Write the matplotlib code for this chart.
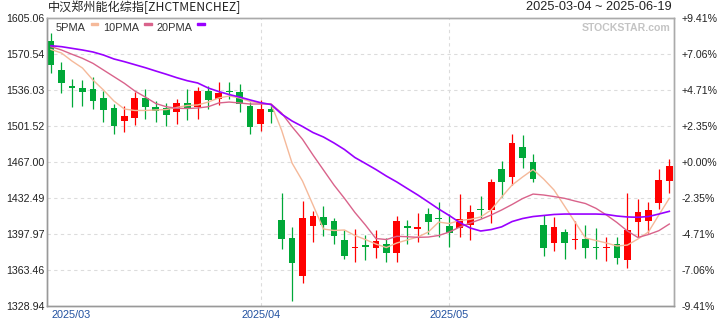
import matplotlib.pyplot as plt
from matplotlib.patches import Rectangle
import numpy as np

# chart text
title = "中汉郑州能化综指[ZHCTMENCHEZ]"
date_range = "2025-03-04 ~ 2025-06-19"

# daily OHLC (60 sessions)
opens = [1583.5, 1555.4, 1540.0, 1538.1, 1536.8, 1528.5, 1518.9, 1506.7, 1509.6, 1528.5,
         1519.6, 1518.6, 1515.3, 1523.7, 1519.6, 1535.2, 1527.8, 1535.2, 1534.3, 1520.8,
         1503.8, 1517.9, 1411.3, 1394.0, 1357.8, 1405.8, 1414.2, 1410.3, 1392.1, 1384.8,
         1387.2, 1383.9, 1387.9, 1379.9, 1405.5, 1403.1, 1417.0, 1413.2, 1405.5, 1403.9,
         1406.5, 1421.8, 1420.9, 1460.3, 1452.9, 1481.4, 1467.0, 1406.5, 1389.5, 1400.0,
         1392.5, 1392.7, 1385.3, 1383.9, 1388.2, 1372.5, 1409.6, 1410.3, 1427.9, 1449.0]
closes = [1560.5, 1542.6, 1538.4, 1534.5, 1525.9, 1517.2, 1501.6, 1511.2, 1528.5, 1520.1,
          1515.7, 1512.4, 1523.7, 1517.6, 1535.2, 1526.9, 1533.6, 1533.8, 1523.0, 1500.9,
          1517.9, 1515.3, 1393.0, 1370.3, 1413.2, 1415.1, 1406.8, 1396.2, 1377.0, 1385.3,
          1385.6, 1391.1, 1379.9, 1410.3, 1403.9, 1403.6, 1409.6, 1412.5, 1399.0, 1412.0,
          1419.0, 1420.9, 1447.8, 1448.1, 1485.0, 1470.5, 1450.7, 1384.7, 1404.5, 1388.9,
          1393.0, 1384.7, 1384.7, 1384.4, 1375.0, 1401.7, 1419.2, 1420.9, 1449.7, 1463.2]
highs = [1590.7, 1563.1, 1547.0, 1545.8, 1549.0, 1535.2, 1523.2, 1520.8, 1534.0, 1536.8,
         1525.9, 1523.4, 1527.2, 1536.8, 1539.3, 1540.0, 1543.6, 1543.4, 1541.9, 1524.9,
         1526.6, 1522.7, 1437.2, 1404.5, 1429.5, 1420.2, 1424.7, 1413.2, 1401.7, 1402.3,
         1396.9, 1401.7, 1393.7, 1415.1, 1411.3, 1418.0, 1422.8, 1428.6, 1416.6, 1436.1,
         1425.4, 1434.3, 1450.4, 1468.0, 1493.9, 1492.9, 1474.7, 1416.1, 1413.9, 1402.6,
         1410.3, 1406.5, 1403.3, 1394.6, 1394.6, 1437.5, 1431.2, 1428.3, 1460.3, 1469.9]
lows = [1552.8, 1533.6, 1520.1, 1521.1, 1517.9, 1505.7, 1493.9, 1496.1, 1502.8, 1508.6,
        1505.7, 1501.9, 1503.8, 1507.1, 1508.6, 1518.2, 1521.8, 1527.5, 1515.3, 1494.2,
        1497.1, 1504.8, 1383.4, 1333.7, 1350.5, 1390.4, 1396.2, 1388.5, 1373.5, 1371.2,
        1372.8, 1374.8, 1370.9, 1370.9, 1388.4, 1389.7, 1398.0, 1395.4, 1385.5, 1395.2,
        1392.1, 1412.9, 1408.1, 1433.7, 1444.9, 1460.9, 1447.8, 1377.0, 1381.8, 1373.8,
        1383.4, 1375.0, 1373.8, 1372.2, 1369.3, 1365.4, 1395.2, 1398.5, 1421.8, 1437.5]

# moving averages
ma5 = [1575.1, 1571.7, 1564.0, 1557.3, 1545.8, 1536.2, 1525.6, 1517.9, 1516.5, 1516.5,
       1517.0, 1517.4, 1519.4, 1521.3, 1521.8, 1524.6, 1528.5, 1530.4, 1528.5, 1525.1,
       1523.4, 1522.7, 1497.7, 1466.0, 1448.7, 1425.7, 1402.6, 1401.2, 1401.7, 1396.4,
       1392.5, 1388.2, 1384.8, 1389.2, 1392.1, 1394.9, 1399.7, 1409.3, 1407.9, 1410.8,
       1411.9, 1414.2, 1420.9, 1433.4, 1444.9, 1452.6, 1459.8, 1450.7, 1440.1, 1424.7,
       1409.3, 1394.0, 1391.6, 1389.2, 1386.3, 1387.2, 1393.0, 1399.7, 1416.1, 1432.1]
ma10 = [1577.8, 1574.6, 1570.5, 1566.6, 1561.8, 1555.4, 1549.0, 1542.6, 1535.2, 1529.4,
        1523.2, 1520.1, 1518.6, 1518.4, 1518.9, 1520.1, 1523.7, 1524.6, 1523.7, 1522.7,
        1522.7, 1522.7, 1514.1, 1500.9, 1488.8, 1473.7, 1459.3, 1444.9, 1432.1, 1418.5,
        1406.5, 1393.5, 1392.5, 1395.6, 1395.2, 1394.6, 1394.9, 1396.4, 1399.7, 1404.5,
        1408.4, 1411.9, 1416.1, 1420.9, 1426.2, 1431.9, 1436.2, 1435.3, 1433.8, 1432.1,
        1429.5, 1427.1, 1422.5, 1416.1, 1408.9, 1400.7, 1394.5, 1397.3, 1401.0, 1407.4]
ma20 = [1578.7, 1577.8, 1576.2, 1574.6, 1572.7, 1569.8, 1566.0, 1563.4, 1560.5, 1557.6,
        1554.4, 1551.3, 1548.0, 1545.1, 1542.9, 1538.1, 1534.7, 1531.8, 1529.4, 1526.6,
        1524.0, 1522.2, 1513.1, 1506.4, 1501.1, 1495.3, 1491.0, 1485.3, 1479.0, 1471.3,
        1465.6, 1459.8, 1453.5, 1447.8, 1441.5, 1435.3, 1428.6, 1421.8, 1415.6, 1408.9,
        1403.6, 1400.7, 1402.1, 1404.7, 1409.8, 1412.7, 1414.6, 1415.6, 1416.6, 1417.0,
        1417.0, 1417.0, 1417.0, 1416.6, 1415.1, 1414.2, 1413.9, 1414.6, 1417.0, 1419.6]

price_ticks = [1328.94, 1363.46, 1397.97, 1432.49, 1467.00, 1501.52, 1536.03, 1570.54, 1605.06]
pct_labels = ["-9.41%", "-7.06%", "-4.71%", "-2.35%", "+0.00%", "+2.35%", "+4.71%", "+7.06%", "+9.41%"]
month_labels = ["2025/03", "2025/04", "2025/05"]
month_pos = [0, 20, 38]

RED = "#ff0000"
GREEN = "#00a838"
C5, C10, C20 = "#f5b99a", "#d9638b", "#9900ff"
NUMFONT = ["Liberation Sans", "DejaVu Sans"]

fig = plt.figure(figsize=(7.2, 3.2), dpi=100)
ax = fig.add_axes([46.5 / 720, 14.3 / 320, 627 / 720, 287.4 / 320])

x = np.arange(len(closes))
o, c = np.array(opens), np.array(closes)
cols = np.where(c >= o, RED, GREEN)
ax.vlines(x, lows, highs, colors=cols, linewidth=0.9, zorder=2)
body_lo = np.minimum(o, c)
body_h = np.maximum(np.abs(c - o), 1.0)
ax.bar(x, body_h, bottom=body_lo, width=0.64, color=cols, linewidth=0, zorder=3)

ax.plot(x, ma5, color=C5, lw=1.0, zorder=4)
ax.plot(x, ma10, color=C10, lw=1.0, zorder=4)
ax.plot(x, ma20, color=C20, lw=1.2, zorder=4)

ax.set_xlim(-0.43, 59.4)
ax.set_ylim(price_ticks[0], price_ticks[-1])

# grid
for p in price_ticks[1:-1]:
    ax.axhline(p, color="#dcdcdc", lw=0.8, ls=(0, (3, 3)), zorder=0)
for m in month_pos[1:]:
    ax.axvline(m, color="#dcdcdc", lw=0.8, ls=(0, (3, 3)), zorder=0)

ax.set_yticks(price_ticks)
ax.set_yticklabels([f"{p:.2f}" for p in price_ticks], fontsize=7.7, color="#222222", family=NUMFONT)
ax.tick_params(axis="y", length=0, pad=1.6)
ax.set_xticks(month_pos)
ax.set_xticklabels(month_labels, fontsize=7.8, color="#2050a0", family=NUMFONT)
ax.tick_params(axis="x", length=0, pad=3)
ax.get_xticklabels()[0].set_horizontalalignment("left")

ax2 = ax.twinx()
ax2.set_ylim(price_ticks[0], price_ticks[-1])
ax2.set_yticks(price_ticks)
ax2.set_yticklabels(pct_labels, fontsize=7.6, color="#222222", family=NUMFONT)
ax2.tick_params(axis="y", length=0, pad=5.8)

for a in (ax, ax2):
    for side in ("left", "bottom"):
        a.spines[side].set_color("#999999")
    for side in ("top", "right"):
        a.spines[side].set_color("#aaaaaa")
    for s in a.spines.values():
        s.set_linewidth(1.0)

# title and date range
fig.text(48 / 720, 1 - 7.5 / 320, title, fontsize=8.7, color="#222222",
         family=["Noto Sans CJK SC", "DejaVu Sans"], va="center", ha="left")
fig.text(672 / 720, 1 - 7.5 / 320, date_range, fontsize=9.2, color="#222222",
         family=NUMFONT, va="center", ha="right")

# legend
leg = [("5PMA", C5, 56, 90.7), ("10PMA", C10, 103.3, 144), ("20PMA", C20, 156.7, 197.3)]
for name, col, tx, sx in leg:
    fig.text(tx / 720, 1 - 28 / 320, name, fontsize=7.9, color="#333333",
             family=NUMFONT, va="center", ha="left")
    fig.patches.append(Rectangle((sx / 720, 1 - 25 / 320), 7.7 / 720, 2.5 / 320,
                                 transform=fig.transFigure, color=col, figure=fig))

# watermark
fig.text(670 / 720, 1 - 28 / 320, "STOCKSTAR.com", fontsize=7.6, color="#c4c4c4",
         fontweight="bold", family=NUMFONT, va="center", ha="right")

fig.savefig("out.png", dpi=100)
